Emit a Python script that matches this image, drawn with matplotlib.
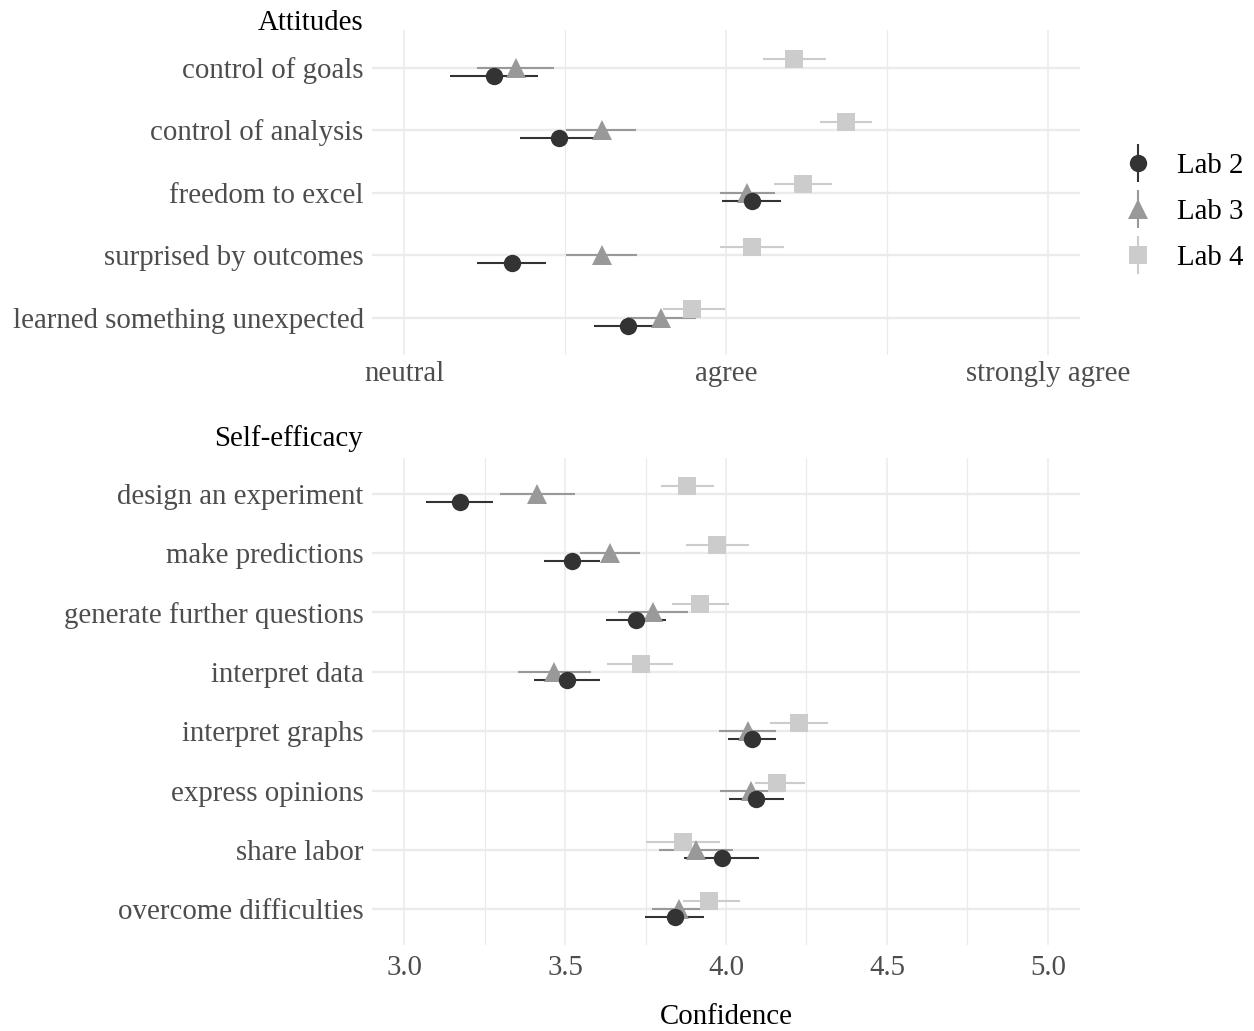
import matplotlib
matplotlib.use("Agg")
import matplotlib.pyplot as plt
from matplotlib.lines import Line2D
from matplotlib.legend_handler import HandlerTuple
from matplotlib.ticker import MultipleLocator

plt.rcParams['font.family'] = ['Liberation Serif', 'DejaVu Serif']

labs = ["Lab 2", "Lab 3", "Lab 4"]
lab_colors = ["#333333", "#999999", "#cccccc"]
lab_markers = ["o", "^", "s"]

att_items = ["control of goals", "control of analysis", "freedom to excel",
             "surprised by outcomes", "learned something unexpected"]
att_mean = {
    "Lab 2": [3.28, 3.48, 4.08, 3.334, 3.694],
    "Lab 3": [3.347, 3.614, 4.066, 3.614, 3.799],
    "Lab 4": [4.211, 4.373, 4.24, 4.08, 3.893],
}
att_lo = {
    "Lab 2": [3.143, 3.359, 3.989, 3.227, 3.591],
    "Lab 3": [3.226, 3.504, 3.981, 3.504, 3.693],
    "Lab 4": [4.116, 4.293, 4.15, 3.98, 3.804],
}
att_hi = {
    "Lab 2": [3.417, 3.603, 4.171, 3.441, 3.796],
    "Lab 3": [3.467, 3.721, 4.153, 3.724, 3.906],
    "Lab 4": [4.311, 4.454, 4.33, 4.181, 3.997],
}

se_items = ["design an experiment", "make predictions", "generate further questions",
            "interpret data", "interpret graphs", "express opinions", "share labor",
            "overcome difficulties"]
se_mean = {
    "Lab 2": [3.174, 3.52, 3.72, 3.507, 4.08, 4.094, 3.987, 3.84],
    "Lab 3": [3.414, 3.639, 3.774, 3.467, 4.067, 4.079, 3.906, 3.854],
    "Lab 4": [3.88, 3.971, 3.92, 3.736, 4.227, 4.159, 3.867, 3.947],
}
se_lo = {
    "Lab 2": [3.069, 3.433, 3.627, 3.404, 4.006, 4.009, 3.871, 3.747],
    "Lab 3": [3.299, 3.547, 3.664, 3.353, 3.977, 3.981, 3.793, 3.77],
    "Lab 4": [3.797, 3.877, 3.831, 3.631, 4.137, 4.089, 3.751, 3.867],
}
se_hi = {
    "Lab 2": [3.277, 3.607, 3.814, 3.61, 4.154, 4.179, 4.103, 3.933],
    "Lab 3": [3.53, 3.734, 3.881, 3.581, 4.156, 4.179, 4.021, 3.939],
    "Lab 4": [3.964, 4.071, 4.01, 3.836, 4.317, 4.246, 3.981, 4.044],
}

att_ticks = [3, 4, 5]
att_ticklabels = ["neutral", "agree", "strongly agree"]
se_ticks = [3.0, 3.5, 4.0, 4.5, 5.0]
se_ticklabels = ["3.0", "3.5", "4.0", "4.5", "5.0"]

W, H = 1254, 1031
fig = plt.figure(figsize=(W / 100, H / 100), dpi=100)

def px_axes(l, t, r, b):
    return fig.add_axes([l / W, 1 - b / H, (r - l) / W, (b - t) / H])

ax1 = px_axes(372, 30, 1080, 355)
ax2 = px_axes(372, 458, 1080, 945)

FS = 20.8
offsets = {"Lab 2": 0.135, "Lab 3": 0.0, "Lab 4": -0.135}
msizes = {"o": 12.5, "^": 15, "s": 12.5}
draw_order = ["Lab 4", "Lab 3", "Lab 2"]

def panel(ax, items, mean, lo, hi, ticks, ticklabels, title, title_y, xpad):
    n = len(items)
    ys = list(range(n))
    for lab in draw_order:
        c = lab_colors[labs.index(lab)]
        y = [v + offsets[lab] for v in ys]
        ax.hlines(y, lo[lab], hi[lab], color=c, lw=1.5, zorder=3)
    for lab in draw_order:
        i = labs.index(lab)
        y = [v + offsets[lab] for v in ys]
        ax.plot(mean[lab], y, linestyle="none", marker=lab_markers[i],
                color=lab_colors[i], markersize=msizes[lab_markers[i]],
                markeredgewidth=0, zorder=4)
    ax.set_xlim(2.9, 5.1)
    ax.set_ylim(n - 1 + 0.6, -0.6)
    ax.set_yticks(ys)
    ax.set_yticklabels(items)
    ax.set_xticks(ticks)
    ax.set_xticklabels(ticklabels)
    ax.xaxis.set_minor_locator(MultipleLocator(0.25 if len(ticks) == 5 else 0.5))
    ax.grid(True, which="major", axis="x", color="#ebebeb", lw=1.1)
    ax.grid(True, which="minor", axis="x", color="#ebebeb", lw=0.9)
    ax.grid(True, which="major", axis="y", color="#ebebeb", lw=1.7)
    ax.set_axisbelow(True)
    for s in ax.spines.values():
        s.set_visible(False)
    ax.tick_params(axis="both", which="both", length=0, labelsize=FS, labelcolor="#4d4d4d")
    ax.tick_params(axis="y", pad=6)
    ax.tick_params(axis="x", pad=xpad)
    fig.text(363 / W, 1 - title_y / H, title, ha="right", va="baseline",
             fontsize=FS, color="black")

panel(ax1, att_items, att_mean, att_lo, att_hi, att_ticks, att_ticklabels, "Attitudes", 30, 4)
panel(ax2, se_items, se_mean, se_lo, se_hi, se_ticks, se_ticklabels, "Self-efficacy", 446, 7.5)
ax2.set_xlabel("Confidence", fontsize=FS, color="black", labelpad=16)

handles = []
for i, lab in enumerate(labs):
    vline = Line2D([], [], linestyle="none", marker="|", markersize=27,
                   markeredgewidth=1.5, color=lab_colors[i])
    pt = Line2D([], [], linestyle="none", marker=lab_markers[i],
                markersize=msizes[lab_markers[i]], markeredgewidth=0, color=lab_colors[i])
    handles.append((vline, pt))
fig.legend(handles, labs, handler_map={tuple: HandlerTuple(ndivide=1, pad=0)},
           loc="center left", bbox_to_anchor=(1106 / W, 1 - 212 / H),
           frameon=False, fontsize=FS, handlelength=1.2, handletextpad=0.77,
           labelspacing=0.68, borderpad=0)

fig.savefig("out.png", dpi=100)
